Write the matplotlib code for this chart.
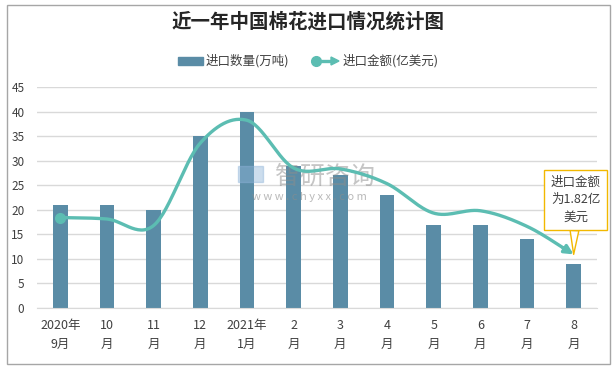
import numpy as np
import matplotlib
matplotlib.use("Agg")
import matplotlib.pyplot as plt
from matplotlib.patches import Rectangle, Polygon
from matplotlib.lines import Line2D

plt.rcParams['font.family'] = ['Noto Sans CJK SC', 'DejaVu Sans']

categories = ["2020年\n9月", "10\n月", "11\n月", "12\n月", "2021年\n1月", "2\n月",
              "3\n月", "4\n月", "5\n月", "6\n月", "7\n月", "8\n月"]
volume = [21, 21, 20, 35, 40, 29, 27, 23, 17, 17, 14, 9]          # 万吨
amount = [3.07, 3.02, 2.80, 5.60, 6.37, 4.75, 4.72, 4.22, 3.22, 3.30, 2.77, 1.82]  # 亿美元
title = "近一年中国棉花进口情况统计图"
bar_label = "进口数量(万吨)"
line_label = "进口金额(亿美元)"
note = "进口金额\n为1.82亿\n美元"

BAR_C = "#5A8CA6"
LINE_C = "#5CBDB2"
TXT_C = "#404040"

fig = plt.figure(figsize=(6.16, 3.69), dpi=100)
fig.patch.set_facecolor("white")
fig.add_artist(Rectangle((7/616, 1 - 364/369), (610-7)/616, (364-5)/369,
                         transform=fig.transFigure, fill=False,
                         edgecolor="#A6A6A6", lw=1.0))

ax = fig.add_axes([37/616, 1 - 308/369, (597-37)/616, (308-87)/369])
x = np.arange(len(categories))
ax.bar(x, volume, width=0.32, color=BAR_C, zorder=2)
ax.set_xlim(-0.5, len(categories) - 0.5)
ax.set_ylim(0, 45)
ax.set_yticks(np.arange(0, 46, 5))
ax.yaxis.grid(True, color="#D9D9D9", lw=1.0, zorder=0)
ax.set_axisbelow(True)
for s in ["top", "right", "left"]:
    ax.spines[s].set_visible(False)
ax.spines["bottom"].set_color("#D9D9D9")
ax.tick_params(axis="y", length=0, labelsize=8.5, labelcolor=TXT_C, pad=9)
ax.tick_params(axis="x", length=0, labelsize=9, labelcolor=TXT_C, pad=8)
ax.set_xticks(x)
ax.set_xticklabels(categories, linespacing=1.6)

# line on hidden secondary axis
ax2 = ax.twinx()
ax2.set_ylim(0, 7.5)
ax2.axis("off")

# watermark (above bars, below line)
ax2.add_artist(Rectangle((238/616, 1 - 182/369), 25/616, 16/369, transform=fig.transFigure,
                         color="#8FB4D9", alpha=0.45, zorder=1))
ax2.text(325/616, 1 - 177/369, "智研咨询", fontsize=18, color="#8C8C8C", alpha=0.5,
         ha="center", va="center", zorder=1, transform=fig.transFigure)
ax2.text(309/616, 1 - 197/369, "w w w . c h y x x . c o m", fontsize=8, color="#8C8C8C",
         alpha=0.6, ha="center", va="center", zorder=1, transform=fig.transFigure)

xa = np.array(x, float)
ya = np.array(amount, float)
pts_x, pts_y = [], []
px = np.concatenate([[2*xa[0]-xa[1]], xa, [2*xa[-1]-xa[-2]]])
py = np.concatenate([[2*ya[0]-ya[1]], ya, [2*ya[-1]-ya[-2]]])
for i in range(1, len(px) - 2):
    t = np.linspace(0, 1, 30, endpoint=False)
    for arr, out in ((px, pts_x), (py, pts_y)):
        p0, p1, p2, p3 = arr[i-1], arr[i], arr[i+1], arr[i+2]
        out.extend(0.5*((2*p1) + (-p0+p2)*t + (2*p0-5*p1+4*p2-p3)*t**2 + (-p0+3*p1-3*p2+p3)*t**3))
pts_x.append(xa[-1]); pts_y.append(ya[-1])
pts_x = np.array(pts_x); pts_y = np.array(pts_y)
ax2.plot(pts_x[:-6], pts_y[:-6], color=LINE_C, lw=2.4, solid_capstyle="round", zorder=3)
ax2.annotate("", xy=(pts_x[-1], pts_y[-1]), xytext=(pts_x[-8], pts_y[-8]),
             arrowprops=dict(arrowstyle="-|>", color=LINE_C, lw=2.4, mutation_scale=13,
                             shrinkA=0, shrinkB=0), zorder=3)
ax2.plot([xa[0]], [ya[0]], "o", color=LINE_C, ms=7, zorder=4)

# callout
ax2.annotate(note, xy=(xa[-1], ya[-1]), xytext=(xa[-1] + 0.04, 3.67),
             ha="center", va="center", fontsize=9, color=TXT_C, linespacing=1.45,
             bbox=dict(boxstyle="square,pad=0.5", fc="white", ec="#F2B800", lw=1.0),
             arrowprops=dict(arrowstyle="wedge,tail_width=0.7", fc="white", ec="#F2B800",
                             lw=1.0, shrinkA=0, shrinkB=0),
             zorder=6)

# title
fig.text(0.5, 1 - 22/369, title, ha="center", va="center", fontsize=14,
         fontweight="bold", color="#262626")

# legend (manual)
ly = 1 - 61/369
fig.add_artist(Rectangle((178/616, ly - 4/369), 25/616, 8/369, transform=fig.transFigure,
                         color=BAR_C))
fig.text(206/616, ly, bar_label, ha="left", va="center", fontsize=9, color=TXT_C)
fig.add_artist(Line2D([316/616, 332/616], [ly, ly], transform=fig.transFigure,
                      color=LINE_C, lw=2.4))
fig.add_artist(Line2D([316/616], [ly], transform=fig.transFigure, marker="o",
                      ms=7, color=LINE_C))
fig.add_artist(Polygon([[331/616, ly + 4/369], [339/616, ly], [331/616, ly - 4/369]],
                       closed=True, transform=fig.transFigure, color=LINE_C))
fig.text(343/616, ly, line_label, ha="left", va="center", fontsize=9, color=TXT_C)

fig.savefig("out.png", dpi=100, facecolor="white")
